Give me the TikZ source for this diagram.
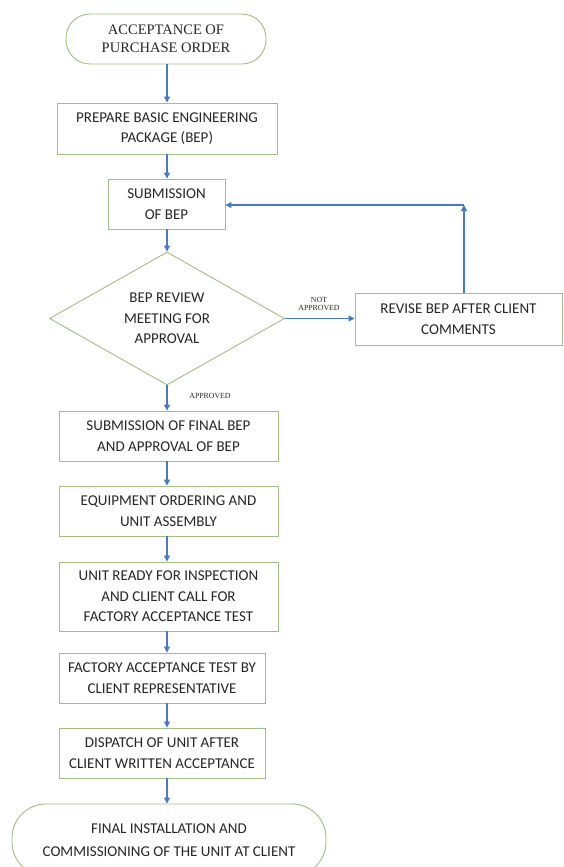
\documentclass[tikz,border=0pt]{standalone}
\usepackage{fontspec}
\setmainfont{Carlito}
\newfontfamily\serifface{Liberation Serif}
\usetikzlibrary{arrows.meta,shapes.geometric,calc}
\definecolor{boxline}{HTML}{A3BD86}
\definecolor{arrowblue}{HTML}{4A78C2}
\definecolor{txt}{HTML}{262626}
\begin{document}
\begin{tikzpicture}[x=1pt,y=-1pt,
  every node/.style={text=txt},
  box/.style={draw=boxline,line width=0.9pt,rectangle,inner sep=0pt,align=center,
    font=\fontsize{15}{20.5}\selectfont},
  term/.style={draw=boxline,line width=0.9pt,rectangle,rounded corners=24pt,inner sep=0pt,align=center},
  dia/.style={draw=boxline,line width=0.9pt,diamond,inner sep=0pt,align=center,aspect=1.77,
    font=\fontsize{15}{20.5}\selectfont},
  arr/.style={draw=arrowblue,line width=1.1pt,-{Triangle[length=6pt,width=6pt]}},
  lbl/.style={font=\serifface\fontsize{7.8}{8.5}\selectfont,align=center,inner sep=0pt}]
\useasboundingbox (0,0) rectangle (563,867);
\fill[white] (0,0) rectangle (563,867);

\node[term,minimum width=200pt,minimum height=50pt,font=\serifface\fontsize{14.5}{18.5}\selectfont] (start) at (166,39)
  {ACCEPTANCE OF\\PURCHASE ORDER};
\node[box,minimum width=220pt,minimum height=51pt] (prep) at (167,128.5)
  {PREPARE BASIC ENGINEERING\\PACKAGE (BEP)};
\node[box,minimum width=117pt,minimum height=50pt] (sub) at (166.5,204)
  {SUBMISSION\\OF BEP};
\node[dia,minimum width=235pt,minimum height=133pt] (rev) at (167,318.5)
  {BEP REVIEW\\MEETING FOR\\APPROVAL};
\node[box,minimum width=207pt,minimum height=52pt] (revise) at (458.5,319)
  {REVISE BEP AFTER CLIENT\\COMMENTS};
\node[box,minimum width=219pt,minimum height=50pt] (final) at (168.5,436)
  {SUBMISSION OF FINAL BEP\\AND APPROVAL OF BEP};
\node[box,minimum width=219pt,minimum height=50pt] (equip) at (168.5,511)
  {EQUIPMENT ORDERING AND\\UNIT ASSEMBLY};
\node[box,minimum width=219pt,minimum height=69pt] (ready) at (168.5,596.5)
  {UNIT READY FOR INSPECTION\\AND CLIENT CALL FOR\\FACTORY ACCEPTANCE TEST};
\node[box,minimum width=206pt,minimum height=50pt] (fat) at (162,678)
  {FACTORY ACCEPTANCE TEST BY\\CLIENT REPRESENTATIVE};
\node[box,minimum width=206pt,minimum height=50pt] (disp) at (162,753)
  {DISPATCH OF UNIT AFTER\\CLIENT WRITTEN ACCEPTANCE};
\node[term,rounded corners=34pt,minimum width=314pt,minimum height=72pt,font=\fontsize{15}{23}\selectfont] (end) at (169,840)
  {FINAL INSTALLATION AND\\COMMISSIONING OF THE UNIT AT CLIENT};

\coordinate (colx) at (167,0);
\coordinate (corner) at (464,205);

\draw[arr] (start.south -| colx) -- (prep.north -| colx);
\draw[arr] (prep.south -| colx) -- (sub.north -| colx);
\draw[arr] (sub.south -| colx) -- (rev.north -| colx);
\draw[arr] (rev.east) -- (revise.west |- rev.east);
\draw[arr] (revise.north -| corner) -- (corner);
\draw[arr] (corner) -- (sub.east |- corner);
\draw[arr] (rev.south -| colx) -- (final.north -| colx);
\draw[arr] (final.south -| colx) -- (equip.north -| colx);
\draw[arr] (equip.south -| colx) -- (ready.north -| colx);
\draw[arr] (ready.south -| colx) -- (fat.north -| colx);
\draw[arr] (fat.south -| colx) -- (disp.north -| colx);
\draw[arr] (disp.south -| colx) -- (end.north -| colx);

\node[lbl] (notapp) at (319,304) {NOT\\APPROVED};
\node[lbl] (app) at (210,396) {APPROVED};
\end{tikzpicture}
\end{document}
